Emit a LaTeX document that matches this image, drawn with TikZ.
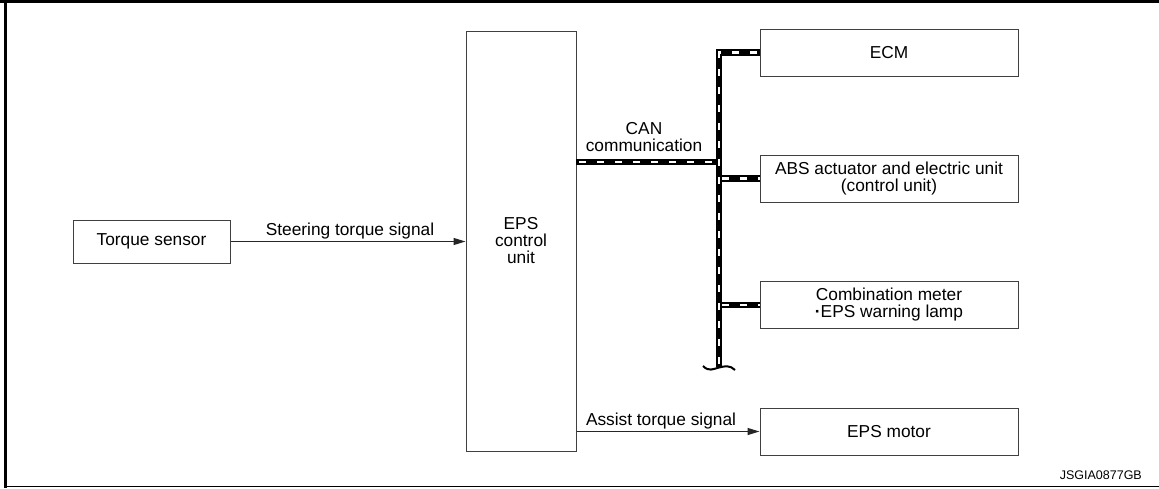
\documentclass[tikz,border=0pt]{standalone}
\usepackage{fontspec}
\setmainfont{Liberation Sans}
\usetikzlibrary{arrows.meta}
\begin{document}
\begin{tikzpicture}[x=1pt,y=-1pt,
  txt/.style={font=\fontsize{17.3}{17}\selectfont, align=center, inner sep=0pt},
  box/.style={txt, draw=black!75, line width=1pt, minimum width=258pt, minimum height=47pt},
  arr/.style={draw=black!85, line width=1.3pt, -{Triangle[length=12pt,width=7pt]}},
  can/.style={draw=black, line width=6.5pt, line join=miter,
    postaction={draw=white, line width=2.5pt, dash pattern=on 7pt off 11pt, dash phase=-3pt}}]
\useasboundingbox (0,0) rectangle (1159,488);
% frame
\draw[line width=3pt] (0,1.5) -- (1159,1.5);
\draw[line width=3pt] (5.5,0) -- (5.5,488);
\draw[line width=1pt] (5.5,486.5) -- (1159,486.5);
% boxes
\node[box, minimum width=157pt, minimum height=43pt] (ts) at (151.5,241.5) {Torque sensor};
\node[box, minimum width=110pt, minimum height=420pt] (eps) at (521,241) {EPS\\control\\unit};
\node[box] (ecm) at (889,52.5) {ECM};
\node[box] (abs) at (889,178.5) {ABS actuator and electric unit\\(control unit)};
\node[box] (comb) at (889,305) {Combination meter\\{\bfseries\textperiodcentered}EPS warning lamp};
\node[box] (mot) at (889,431.5) {EPS motor};
% arrows
\draw[arr] (ts.east) -- (eps.west |- ts.east);
\node[txt, anchor=base] (l1) at (350,235) {Steering torque signal};
\draw[arr] (eps.east |- mot.west) -- (mot.west);
\node[txt, anchor=base] (l2) at (661,425) {Assist torque signal};
% CAN bus
\coordinate (canL) at (576,162);
\coordinate (canR) at (719,162);
\coordinate (bAbs) at (719,178.5);
\coordinate (bComb) at (719,305);
\coordinate (busBot) at (719,367);
\draw[can] (canL) -- (canR);
\draw[can] (bAbs) -- (abs.west);
\draw[can] (bComb) -- (comb.west);
\draw[can] (ecm.west) -| (busBot);
\node[txt] (l3) at (644,137) {CAN\\communication};
\draw[line width=2pt] (703,366) .. controls (709,372) and (713,369) .. (719,367.5) .. controls (725,366) and (730,365) .. (735,370);
% code
\node[font=\fontsize{12.5}{12.5}\selectfont, inner sep=0pt, anchor=base east] (code) at (1142,479) {JSGIA0877GB};
\end{tikzpicture}
\end{document}
